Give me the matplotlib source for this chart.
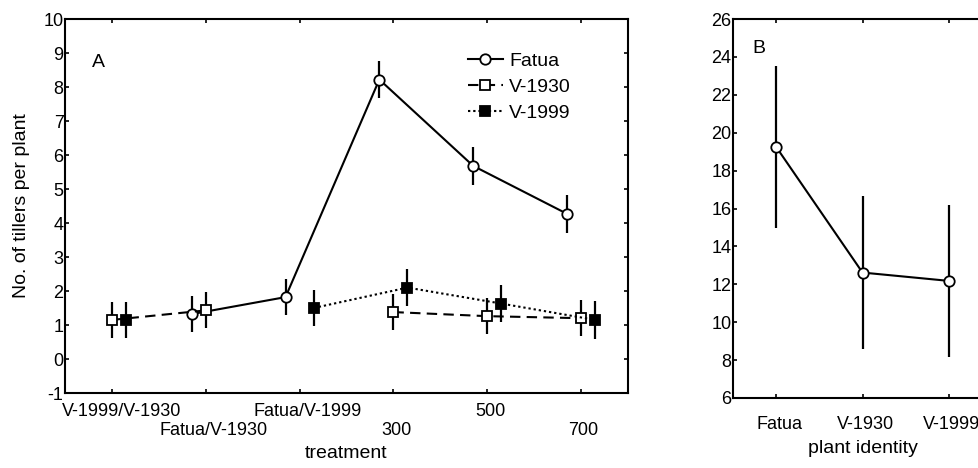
import matplotlib.pyplot as plt
import matplotlib.transforms as mtransforms
import numpy as np

plt.rcParams["font.family"] = ["Liberation Sans", "DejaVu Sans"]
plt.rcParams["axes.unicode_minus"] = False

# panel A: tillers per plant by treatment
treatments = ["V-1999/V-1930", "Fatua/V-1930", "Fatua/V-1999", "300", "500", "700"]
fatua = [np.nan, 1.32, 1.82, 8.22, 5.68, 4.27]
v1930 = [1.15, 1.43, np.nan, 1.38, 1.26, 1.20]
v1999 = [1.15, np.nan, 1.50, 2.10, 1.63, 1.15]
fatua_err = [np.nan, 0.53, 0.53, 0.55, 0.55, 0.55]
v1930_err = [0.53, 0.53, np.nan, 0.53, 0.53, 0.53]
v1999_err = [0.53, np.nan, 0.53, 0.55, 0.55, 0.55]

# panel B: plant identity
plants = ["Fatua", "V-1930", "V-1999"]
plant_mean = [19.25, 12.62, 12.18]
plant_err = [4.28, 4.03, 4.03]

fig = plt.figure(figsize=(9.79, 4.68), dpi=100)
ax1 = fig.add_axes([65 / 979, 75 / 468, 563 / 979, 374 / 468])
ax2 = fig.add_axes([733 / 979, 70 / 468, 259 / 979, 379 / 468])

x = np.arange(len(treatments))
series = [
    ("Fatua", fatua, fatua_err, -0.15, "-", "o", "white"),
    ("V-1930", v1930, v1930_err, 0.0, (0, (5, 3)), "s", "white"),
    ("V-1999", v1999, v1999_err, 0.15, (0, (1.1, 1.4)), "s", "black"),
]
for name, vals, errs, off, ls, mk, fc in series:
    ax1.errorbar(x + off, vals, yerr=errs, fmt="none", ecolor="black",
                 elinewidth=1.6, capsize=0, zorder=2)
    ax1.plot(x + off, vals, color="black", linestyle=ls, linewidth=1.5,
             marker=mk, markersize=7.5, markerfacecolor=fc,
             markeredgecolor="black", markeredgewidth=1.3, label=name, zorder=3)

ax1.set_xlim(-0.5, len(treatments) - 0.5)
ax1.set_ylim(-1, 10)
ax1.set_yticks(np.arange(-1, 11, 1))
# alternate the category labels over two rows (major = upper row, minor = lower row)
ax1.set_xticks(x[::2])
ax1.set_xticklabels(treatments[::2])
ax1.set_xticks(x[1::2], minor=True)
ax1.set_xticklabels(treatments[1::2], minor=True)
ax1.set_xlabel("treatment", fontsize=14, labelpad=4)
ax1.set_ylabel("No. of tillers per plant", fontsize=14, labelpad=10)
ax1.text(0.048, 0.885, "A", transform=ax1.transAxes, fontsize=14, va="center")
ax1.legend(loc="upper left", bbox_to_anchor=(0.715, 0.912), frameon=False,
           fontsize=14, handlelength=1.8, handletextpad=0.35,
           labelspacing=0.45, borderpad=0, borderaxespad=0)

xb = np.arange(len(plants))
ax2.errorbar(xb, plant_mean, yerr=plant_err, fmt="none", ecolor="black",
             elinewidth=1.6, capsize=0, zorder=2)
ax2.plot(xb, plant_mean, color="black", linewidth=1.5, marker="o",
         markersize=7.5, markerfacecolor="white", markeredgecolor="black",
         markeredgewidth=1.3, zorder=3)
ax2.set_xlim(-0.5, len(plants) - 0.5)
ax2.set_ylim(6, 26)
ax2.set_yticks(np.arange(6, 27, 2))
ax2.set_xticks(xb)
ax2.set_xticklabels(plants)
ax2.set_xlabel("plant identity", fontsize=14, labelpad=5)
ax2.text(0.073, 0.923, "B", transform=ax2.transAxes, fontsize=14, va="center")

for ax in (ax1, ax2):
    ax.tick_params(which="both", direction="in", length=3, width=1.2,
                   top=True, right=True, labelsize=13)
    ax.tick_params(axis="y", pad=1)
    for sp in ax.spines.values():
        sp.set_linewidth(1.5)
ax1.tick_params(axis="x", which="major", pad=7)
ax1.tick_params(axis="x", which="minor", pad=21)
ax2.tick_params(axis="x", pad=13)

# small rightward nudge of the category labels, as in the original layout
def nudge(labels, shifts):
    for lab, dx in zip(labels, shifts):
        lab.set_transform(lab.get_transform()
                          + mtransforms.ScaledTranslation(dx / 100, 0, fig.dpi_scale_trans))

nudge(ax1.get_xticklabels(), [10, 8, 3])
nudge(ax1.get_xticklabels(minor=True), [8, 3, 2])
nudge(ax2.get_xticklabels(), [3, 3, 3])

fig.savefig("out.png", dpi=100)
